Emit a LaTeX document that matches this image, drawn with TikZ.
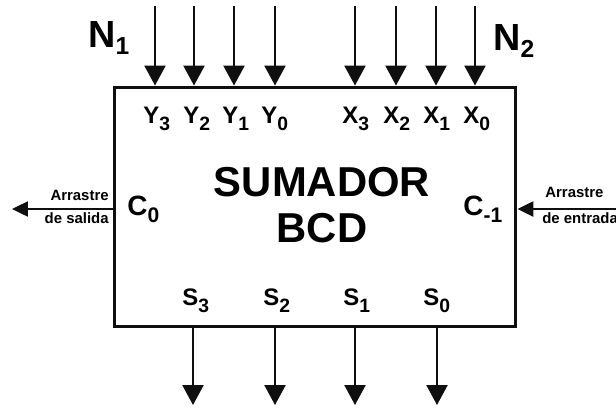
\documentclass[tikz,border=0pt]{standalone}
\usepackage{fontspec}
\setmainfont{Liberation Sans}
\usetikzlibrary{arrows.meta,positioning}
\definecolor{wireblack}{RGB}{15,15,15}
\newcommand{\pinsub}[2][11]{\raisebox{-4pt}{\fontsize{#1}{#1}\selectfont #2}}

\begin{document}
\begin{tikzpicture}[x=0.02cm, y=-0.02cm,
        block/.style={rectangle,draw=wireblack,line width=1.7pt,
          minimum width=8.04cm,minimum height=4.8cm},
        title/.style={align=center,inner sep=0pt,
          font=\fontsize{23.8}{26}\selectfont\bfseries},
        bus/.style={inner sep=0pt,anchor=base west,
          font=\fontsize{21.5}{22}\selectfont\bfseries},
        pinlabel/.style={inner sep=0pt,anchor=base west,
          font=\fontsize{13.6}{14}\selectfont\bfseries},
        cpin/.style={inner sep=0pt,anchor=base west,
          font=\fontsize{15.9}{16}\selectfont\bfseries},
        note/.style={inner sep=0pt,font=\fontsize{8.5}{9}\selectfont\bfseries},
        wire/.style={-{Triangle[length=0.4cm,width=0.42cm]},draw=wireblack,line width=1.4pt},
        carry/.style={-{Triangle[length=0.32cm,width=0.3cm]},draw=wireblack,line width=1.4pt}]
        \useasboundingbox (0,0) rectangle (616,410);
        \clip (0,0) rectangle (616,410);
        \node[block] (add) at (315,207) {};
        \node[title] (name) at (322,205) {SUMADOR\\BCD};
        % entradas N1 y N2
        \node[bus] (n1) at (88,47) {N\pinsub[14]{1}};
        \node[bus] (n2) at (493,50) {N\pinsub[14]{2}};
        \coordinate (y3in) at (155,6);
        \coordinate (y2in) at (194,6);
        \coordinate (y1in) at (234,6);
        \coordinate (y0in) at (275,6);
        \coordinate (x3in) at (355,6);
        \coordinate (x2in) at (396,6);
        \coordinate (x1in) at (436,6);
        \coordinate (x0in) at (475,6);
        \draw[wire] (y3in) -- (y3in |- add.north);
        \draw[wire] (y2in) -- (y2in |- add.north);
        \draw[wire] (y1in) -- (y1in |- add.north);
        \draw[wire] (y0in) -- (y0in |- add.north);
        \draw[wire] (x3in) -- (x3in |- add.north);
        \draw[wire] (x2in) -- (x2in |- add.north);
        \draw[wire] (x1in) -- (x1in |- add.north);
        \draw[wire] (x0in) -- (x0in |- add.north);
        \node[pinlabel] (y3) at (143,123) {Y\pinsub{3}};
        \node[pinlabel] (y2) at (183,123) {Y\pinsub{2}};
        \node[pinlabel] (y1) at (222,123) {Y\pinsub{1}};
        \node[pinlabel] (y0) at (261,123) {Y\pinsub{0}};
        \node[pinlabel] (x3) at (342,123) {X\pinsub{3}};
        \node[pinlabel] (x2) at (383,123) {X\pinsub{2}};
        \node[pinlabel] (x1) at (423,123) {X\pinsub{1}};
        \node[pinlabel] (x0) at (463,123) {X\pinsub{0}};
        % salidas
        \coordinate (s3out) at (193,405);
        \coordinate (s2out) at (275,405);
        \coordinate (s1out) at (355,405);
        \coordinate (s0out) at (437,405);
        \draw[wire] (s3out |- add.south) -- (s3out);
        \draw[wire] (s2out |- add.south) -- (s2out);
        \draw[wire] (s1out |- add.south) -- (s1out);
        \draw[wire] (s0out |- add.south) -- (s0out);
        \node[pinlabel] (s3) at (182,305) {S\pinsub{3}};
        \node[pinlabel] (s2) at (263,305) {S\pinsub{2}};
        \node[pinlabel] (s1) at (343,305) {S\pinsub{1}};
        \node[pinlabel] (s0) at (423,305) {S\pinsub{0}};
        % acarreos
        \node[cpin] (c0) at (127,215) {C\pinsub[12]{0}};
        \node[cpin] (cm1) at (463,215) {C\pinsub[12]{-1}};
        \coordinate (cout) at (12,209);
        \coordinate (cin) at (630,209);
        \draw[carry] (cout -| add.west) -- (cout);
        \draw[carry] (cin) -- (cin -| add.east);
        \node[note,anchor=base east] (outtop) at (109,200) {Arrastre};
        \node[note,anchor=base east] (outbot) at (109,223) {de salida};
        \node[note,anchor=base west] (intop) at (545,197) {Arrastre};
        \node[note,anchor=base west] (inbot) at (542,223) {de entrada};
      \end{tikzpicture}
\end{document}
